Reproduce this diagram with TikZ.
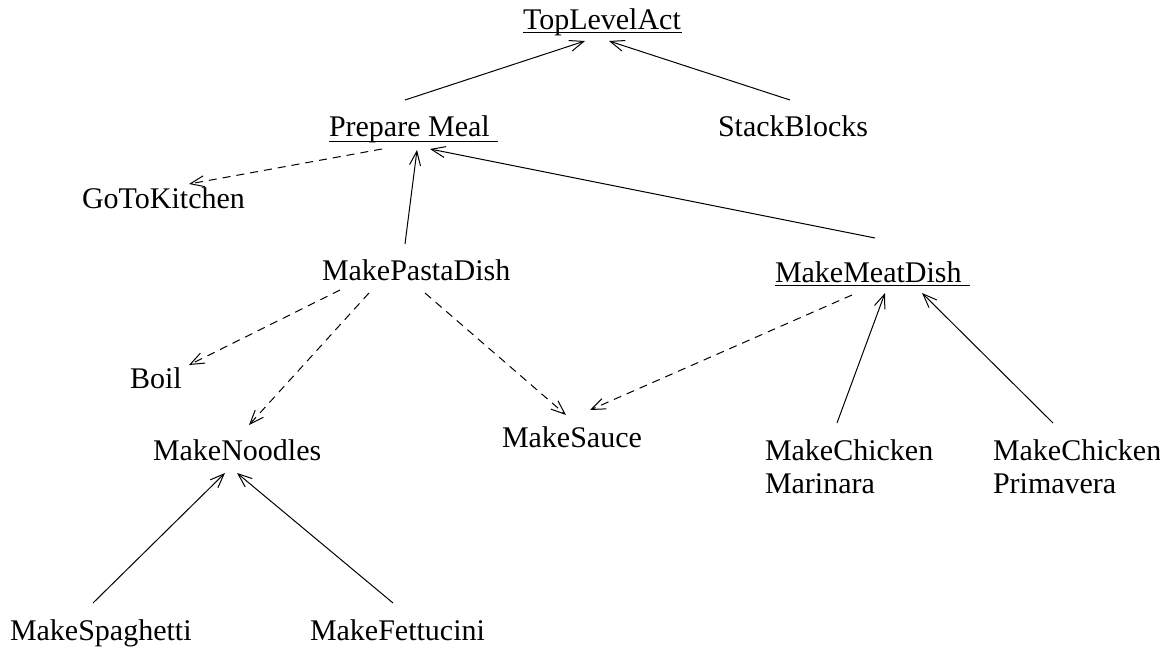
\documentclass[tikz,border=0pt]{standalone}
\usepackage{fontspec}
\setmainfont{Liberation Serif}
\usetikzlibrary{arrows.meta}
\begin{document}
\begin{tikzpicture}[x=1pt,y=-1pt,
  act/.style={inner sep=0pt,outer sep=0pt,anchor=base west,
    font=\fontsize{30}{33}\selectfont},
  multi/.style={act,align=left},
  uline/.style={line width=1pt},
  sublink/.style={line width=1pt,-{Straight Barb[length=14pt,width=11pt,line width=1pt]}},
  steplink/.style={sublink,dash pattern=on 8pt off 6pt}]
\useasboundingbox (0,0) rectangle (1160,650);

% activity nodes (two-line nodes are placed by their last baseline)
\node[act] (tla) at (523,30) {TopLevelAct};
\node[act] (pm)  at (329,137) {Prepare Meal};
\node[act] (sb)  at (718,137) {StackBlocks};
\node[act] (gtk) at (82,208) {GoToKitchen};
\node[act] (mpd) at (322,280) {MakePastaDish};
\node[act] (mmd) at (775,282) {MakeMeatDish};
\node[act] (boil) at (130,388) {Boil};
\node[act] (mn)  at (153,460) {MakeNoodles};
\node[act] (ms)  at (502,447) {MakeSauce};
\node[multi] (mcm) at (765,493) {MakeChicken\\Marinara};
\node[multi] (mcp) at (993,493) {MakeChicken\\Primavera};
\node[act] (msp) at (10,640) {MakeSpaghetti};
\node[act] (mf)  at (310,640) {MakeFettucini};

% underlines of the abstract activities
\draw[uline] ([shift={(0,3)}]tla.base west) -- ([shift={(1,3)}]tla.base east);
\draw[uline] ([shift={(0,5)}]pm.base west) -- ([shift={(8,5)}]pm.base east);
\draw[uline] ([shift={(0,3)}]mmd.base west) -- ([shift={(8,3)}]mmd.base east);

% specialisation links
\draw[sublink] ([shift={(76,-37)}]pm.base west) -- ([shift={(62,11)}]tla.base west);
\draw[sublink] ([shift={(72,-37)}]sb.base west) -- ([shift={(86,11)}]tla.base west);
\draw[sublink] ([shift={(83,-36)}]mpd.base west) -- ([shift={(88,13)}]pm.base west);
\draw[sublink] ([shift={(100,-44)}]mmd.base west) -- ([shift={(101,12)}]pm.base west);
\draw[sublink] ([shift={(72,-70)}]mcm.base west) -- ([shift={(110,11)}]mmd.base west);
\draw[sublink] ([shift={(60,-70)}]mcp.base west) -- ([shift={(147,11)}]mmd.base west);
\draw[sublink] ([shift={(83,-37)}]msp.base west) -- ([shift={(72,13)}]mn.base west);
\draw[sublink] ([shift={(83,-37)}]mf.base west) -- ([shift={(84,13)}]mn.base west);

% step links
\draw[steplink] ([shift={(53,12)}]pm.base west) -- ([shift={(107,-24)}]gtk.base west);
\draw[steplink] ([shift={(18,10)}]mpd.base west) -- ([shift={(59,-23)}]boil.base west);
\draw[steplink] ([shift={(47,13)}]mpd.base west) -- ([shift={(96,-35)}]mn.base west);
\draw[steplink] ([shift={(103,13)}]mpd.base west) -- ([shift={(64,-32)}]ms.base west);
\draw[steplink] ([shift={(77,13)}]mmd.base west) -- ([shift={(88,-37)}]ms.base west);
\end{tikzpicture}
\end{document}
